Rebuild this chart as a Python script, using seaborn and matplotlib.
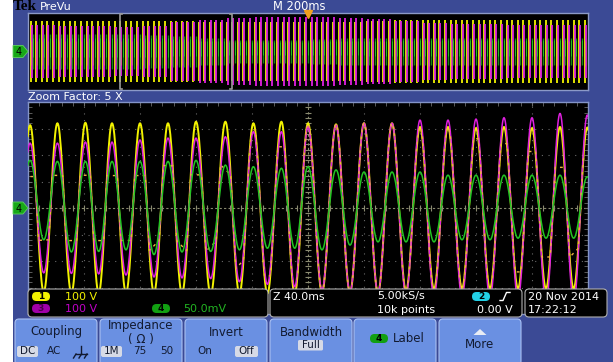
import matplotlib
matplotlib.use("Agg")
import matplotlib.pyplot as plt
from matplotlib.patches import FancyBboxPatch, Rectangle, Polygon
import numpy as np
import pandas as pd
import seaborn as sns

# ---- values ----
# zoomed window: 40 ms/div, 10 div wide, times in ms from the left edge
peak_ms = [1.5, 21, 41, 60, 80, 100, 120, 141, 161, 181, 200,
           220, 240, 260, 280, 300, 320, 340, 360, 380, 399.5]
ch1_peak_v = [313, 320, 322, 320, 320, 320, 326, 326, 320, 326, 320,
              316, 320, 320, 306, 306, 302, 306, 302, 306, 304]
ch3_peak_v = [245, 245, 249, 249, 257, 264, 264, 269, 288, 288, 307,
              313, 320, 320, 332, 332, 336, 341, 341, 357, 351]
ch4_peak_mv = [90, 88, 88, 88, 88, 88, 90, 81, 78, 75, 78,
               72, 68, 68, 68, 62, 62, 62, 62, 62, 59]
ch4_trough_mv = [-60, -83, -82, -79, -88, -83, -82, -79, -76, -76,
                 -79, -70, -64, -64, -64, -60, -60, -57, -57, -57]

# PreVu strip: 2 s record, one envelope value per 100 ms
prevu_seg_ms = [0, 100, 200, 300, 400, 500, 600, 700, 800, 900,
                1000, 1100, 1200, 1300, 1400, 1500, 1600, 1700, 1800, 1900]
prevu_ch1_v = [320, 320, 320, 320, 320, 320, 310, 305, 305, 305,
               305, 310, 315, 325, 325, 325, 325, 325, 325, 325]
prevu_ch3_v = [275, 270, 260, 250, 270, 305, 330, 350, 355, 355,
               355, 350, 340, 320, 300, 290, 285, 280, 280, 280]
prevu_ch4_mv = [90, 90, 90, 90, 88, 80, 70, 62, 60, 62,
                65, 68, 70, 72, 72, 72, 72, 72, 72, 72]

volts_per_div = {"1": 100, "3": 100, "4": 50}
zoom_start_ms = 328.6
trigger_ms = 1000
mains_period_ms = 20

YEL = "#f2f200"
MAG = "#e020e0"
GRN = "#22c422"
BLUE_BG = "#3b4a95"
GRID = "#6a6a6a"


def half_cosine_trace(t_peaks, peaks, troughs):
    # join successive extremes (peak, trough, peak...) with half cosines
    ext = [(t_peaks[0] - 10, troughs[0])]
    for i, (t, p) in enumerate(zip(t_peaks, peaks)):
        ext.append((t, p))
        if i < len(troughs):
            ext.append(((t + t_peaks[i + 1]) / 2, troughs[i]))
    ext.append((t_peaks[-1] + 10, troughs[-1]))
    s = np.linspace(0, 1, 24, endpoint=False)
    tt, vv = [], []
    for (ta, a), (tb, b) in zip(ext[:-1], ext[1:]):
        tt.append(ta + (tb - ta) * s)
        vv.append((a + b) / 2 + (a - b) / 2 * np.cos(np.pi * s))
    return np.concatenate(tt), np.concatenate(vv)


def mirror(peaks):
    return [-(a + b) / 2 for a, b in zip(peaks[:-1], peaks[1:])]


W, H = 613, 362
fig = plt.figure(figsize=(W / 100, H / 100), dpi=100)
fig.patch.set_facecolor(BLUE_BG)

# ---------------- main zoomed graticule ----------------
ax = fig.add_axes([28 / W, (H - 314) / H, 560 / W, 212 / H])
ax.set_facecolor("black")
for x in range(40, 400, 40):
    if x != 200:
        ax.axvline(x, color=GRID, lw=0.8, ls=(0, (1, 5)), zorder=1)
for y in [-3, -2, -1, 1, 2, 3]:
    ax.axhline(y, color=GRID, lw=0.8, ls=(0, (1, 5)), zorder=1)
ax.axvline(200, color="#8a8a70", lw=0.8, ls=(0, (2, 2)), zorder=1)
ax.axhline(0, color="#8a8a70", lw=0.8, ls=(0, (2, 2)), zorder=1)
ax.plot(np.arange(0, 401, 8), np.zeros(51), ls="none", marker="|", ms=5,
        mew=0.8, color="#8a8a70", zorder=1)
ax.plot(np.full(41, 200), np.linspace(-4, 4, 41), ls="none", marker="_",
        ms=5, mew=0.8, color="#8a8a70", zorder=1)

t1, v1 = half_cosine_trace(peak_ms, ch1_peak_v, mirror(ch1_peak_v))
t3, v3 = half_cosine_trace(peak_ms, ch3_peak_v, mirror(ch3_peak_v))
t4, v4 = half_cosine_trace(peak_ms, ch4_peak_mv, ch4_trough_mv)
main = pd.concat([
    pd.DataFrame({"t": t1, "div": v1 / volts_per_div["1"], "ch": "1"}),
    pd.DataFrame({"t": t3, "div": v3 / volts_per_div["3"], "ch": "3"}),
    pd.DataFrame({"t": t4, "div": v4 / volts_per_div["4"], "ch": "4"}),
])
# where ch1 sits on top of ch3 the screen shows orange dashes on magenta
overlap = pd.DataFrame({
    "t": t1,
    "div": np.where(np.abs(v1 - v3) < 30, v1 / volts_per_div["1"], np.nan),
})
sns.lineplot(data=main[main.ch == "1"], x="t", y="div", color=YEL, lw=1.4,
             sort=False, estimator=None, ax=ax, zorder=3)
sns.lineplot(data=main[main.ch == "3"], x="t", y="div", color=MAG, lw=1.1,
             sort=False, estimator=None, ax=ax, zorder=4)
sns.lineplot(data=overlap, x="t", y="div", color="#f0b040", lw=1.0,
             linestyle=(0, (2, 3)), sort=False, estimator=None, ax=ax,
             zorder=5)
sns.lineplot(data=main[main.ch == "4"], x="t", y="div", color=GRN, lw=1.1,
             sort=False, estimator=None, ax=ax, zorder=6)
ax.set_xlim(0, 400)
ax.set_ylim(-4, 4)
ax.set_xticks(np.arange(0, 401, 40))
ax.set_xticks(np.arange(0, 401, 8), minor=True)
ax.set_yticks(np.arange(-4, 5, 1))
ax.set_yticks(np.linspace(-4, 4, 41), minor=True)
ax.tick_params(which="both", direction="in", length=3, color=GRID, top=True,
               right=True, labelbottom=False, labelleft=False)
ax.set_xlabel("")
ax.set_ylabel("")
for sp in ax.spines.values():
    sp.set_color("#8394c8")
    sp.set_linewidth(1)

# ---------------- PreVu strip ----------------
axp = fig.add_axes([28 / W, (H - 90) / H, 560 / W, 77 / H])
axp.set_facecolor("black")
cyc_ms = np.arange(zoom_start_ms % mains_period_ms + 1, 2000, mains_period_ms)
seg = np.searchsorted(prevu_seg_ms, cyc_ms, side="right") - 1
a1 = np.array(prevu_ch1_v)[seg] / volts_per_div["1"]
a3 = np.array(prevu_ch3_v)[seg] / volts_per_div["3"]
a4 = np.array(prevu_ch4_mv)[seg] / volts_per_div["4"]
axp.vlines(cyc_ms, -a1, a1, color=YEL, lw=1.3, zorder=2)
axp.vlines(cyc_ms + 3, -a3, a3, color=MAG, lw=1.3, zorder=3)
axp.vlines(cyc_ms + 1, -a1 * 0.45, a1 * 0.35, color="#e89060", lw=0.8,
           zorder=4, alpha=0.5)
axp.vlines(cyc_ms + 9, -a4, a4, color="#138a13", lw=1.0, zorder=5)
axp.vlines(cyc_ms + 9, -a4 * 0.3, a4 * 0.8, color=GRN, lw=0.7, zorder=6)
for xb, d in [(zoom_start_ms, 8), (zoom_start_ms + 400, -8)]:
    axp.plot([xb + d, xb, xb, xb + d], [3.85, 3.85, -3.85, -3.85],
             color="#9a9a9a", lw=1.2, zorder=7)
axp.plot([trigger_ms], [3.85], marker="v", ms=6, color="#f0a020",
         clip_on=False, zorder=8)
axp.set_xlim(0, 2000)
axp.set_ylim(-4, 4)
axp.set_xticks([])
axp.set_yticks([])
for sp in axp.spines.values():
    sp.set_color("#8c9ac8")
    sp.set_linewidth(1)

# ---------------- screen furniture (pixel coordinates) ----------------
ui = fig.add_axes([0, 0, 1, 1], zorder=10)
ui.set_xlim(0, W)
ui.set_ylim(H, 0)
ui.axis("off")
ui.patch.set_alpha(0)

ui.add_patch(Rectangle((0, 0), 13, H, fc="white", ec="none"))
ui.text(13, 7, "Tek", family="Liberation Serif", weight="bold", size=11,
        color="black", va="center", ha="left")
ui.text(40, 6.5, "PreVu", color="white", size=8, va="center")
ui.text(273, 6.5, "M 200ms", color="white", size=8.3, va="center")
ui.text(28, 96.5, "Zoom Factor: 5 X", color="white", size=8, va="center")

for yc in [51.5, 208]:
    ui.add_patch(Polygon([(13, yc - 6), (23, yc - 6), (28, yc), (23, yc + 6),
                          (13, yc + 6)], closed=True, fc="#18a818",
                         ec="#60d060", lw=0.6))
    ui.text(19, yc + 0.5, "4", color="black", size=7, ha="center",
            va="center")


def box(x, y, w, h, fc, ec="none", r=4, lw=0.8):
    ui.add_patch(FancyBboxPatch((x, y), w, h,
                                boxstyle=f"round,pad=0,rounding_size={r}",
                                fc=fc, ec=ec, lw=lw))


def badge(x, y, label, fc, tc="black"):
    box(x, y, 18, 9, fc, r=4.5)
    ui.text(x + 9, y + 4.8, label, color=tc, size=6.5, weight="bold",
            ha="center", va="center")


# info bars
box(28, 289, 240, 28, "black", "#b0b0b0")
box(270, 289, 252, 28, "black", "#b0b0b0")
box(525, 289, 82, 28, "black", "#b0b0b0")
badge(32, 292, "1", YEL)
ui.text(65, 296.5, "100 V", color=YEL, size=8, va="center")
badge(32, 304, "3", "#a000a8", "#4a004a")
ui.text(65, 308.5, "100 V", color="#c000c8", size=8, va="center")
badge(152, 304, "4", "#12a012")
ui.text(183, 308.5, "50.0mV", color="#22b422", size=8, va="center")
ui.text(273, 296.5, "Z 40.0ms", color="white", size=7.8, va="center")
ui.text(377, 296.5, "5.00kS/s", color="white", size=8, va="center")
ui.text(377, 310, "10k points", color="white", size=8, va="center")
badge(472, 292, "2", "#22d0e6")
ui.plot([500, 503, 506.5, 510], [300.5, 300.5, 292.5, 292.5], color="white",
        lw=1)
ui.text(513, 310, "0.00 V", color="white", size=8, va="center", ha="right")
ui.text(528, 296.5, "20 Nov 2014", color="white", size=8, va="center")
ui.text(528, 310, "17:22:12", color="white", size=8, va="center")

# soft-key buttons
BTN = "#6a90e2"
BTN_EDGE = "#a9c0f2"
TXT = "#121a30"
HL = "#d6dae6"
for bx in [15, 100, 185, 270, 354, 439]:
    box(bx, 319, 82, 46, BTN, BTN_EDGE, r=4)

ui.text(56, 332, "Coupling", color=TXT, size=8.5, ha="center", va="center")
box(17, 346, 21, 11, HL, r=2)
ui.text(27.5, 351.5, "DC", color=TXT, size=7.5, ha="center", va="center")
ui.text(54, 351.5, "AC", color=TXT, size=7.5, ha="center", va="center")
ui.plot([81, 81], [346, 354], color=TXT, lw=1)
ui.plot([76, 87], [354, 354], color=TXT, lw=1)
for xs in [76, 81.5, 87]:
    ui.plot([xs, xs - 2.5], [354, 358], color=TXT, lw=1)

ui.text(141, 326, "Impedance", color=TXT, size=8.5, ha="center", va="center")
ui.text(141, 339, "( Ω )", color=TXT, size=8.5, ha="center", va="center")
box(101, 346, 21, 11, HL, r=2)
ui.text(111.5, 351.5, "1M", color=TXT, size=7.5, ha="center", va="center")
ui.text(140, 351.5, "75", color=TXT, size=7.5, ha="center", va="center")
ui.text(167, 351.5, "50", color=TXT, size=7.5, ha="center", va="center")

ui.text(226, 332, "Invert", color=TXT, size=8.5, ha="center", va="center")
ui.text(205, 351.5, "On", color=TXT, size=7.5, ha="center", va="center")
box(235, 346, 23, 11, HL, r=2)
ui.text(246.5, 351.5, "Off", color=TXT, size=7.5, ha="center", va="center")

ui.text(311, 332, "Bandwidth", color=TXT, size=8.5, ha="center", va="center")
box(298, 340, 25, 10.5, HL, r=1.5)
ui.text(310.5, 345.3, "Full", color=TXT, size=7.5, ha="center", va="center")

badge(370, 334, "4", "#12a012")
ui.text(393, 338.5, "Label", color=TXT, size=8.5, va="center")

ui.add_patch(Polygon([(473.5, 335), (486.5, 335), (480, 329)], closed=True,
                     fc="#e8ecf4", ec="none"))
ui.text(480, 345, "More", color=TXT, size=8.5, ha="center", va="center")

fig.savefig("out.png", dpi=100, facecolor=fig.get_facecolor())
